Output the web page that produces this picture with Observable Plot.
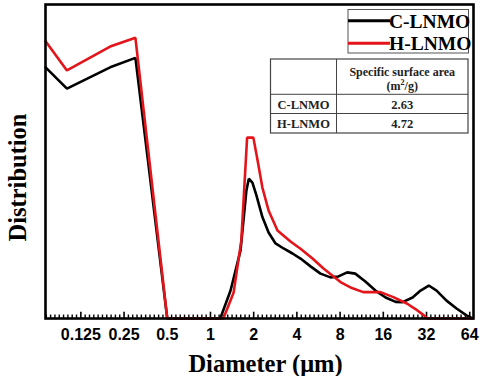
<!DOCTYPE html>
<html>
<head>
<meta charset="utf-8">
<script src="https://cdn.jsdelivr.net/npm/d3@7"></script>
<script src="https://cdn.jsdelivr.net/npm/@observablehq/plot@0.6"></script>
<style>
  html, body { margin: 0; padding: 0; background: #fff; }
  #chart svg { display: block; }
</style>
</head>
<body>
<div id="chart"></div>
<script>
// ---- data ----
const diameterC = [0.071,0.1,0.2,0.3,0.5,1,1.17,1.38,1.62,1.78,1.85,1.96,2.09,2.30,2.54,2.84,3.23,3.73,4.24,4.98,5.84,6.86,7.80,8.96,10.2,12.0,14.1,16.6,19.5,21.8,25.6,29.1,33.2,37.6,44.1,51.8,60.8,67];
const distC     = [80.0,73.2,80.0,83.0,0,0,0,8.9,21.7,40.8,44.5,43.3,39.2,32.3,27.4,23.9,22.3,20.7,19.1,16.6,14.3,13.1,13.4,14.7,14.3,11.8,8.9,6.7,5.3,5.2,6.7,8.9,10.5,8.9,5.7,3.2,1.0,0];
const diameterH = [0.071,0.1,0.2,0.3,0.5,1,1.23,1.45,1.64,1.80,1.99,2.13,2.30,2.54,2.93,3.61,4.24,5.14,6.13,7.20,8.05,9.45,11.6,15.3,18.8,23.5,26.8,30.7,32.5,67];
const distH     = [88.3,79.0,86.6,89.4,0,0,0,8.3,24.8,57.6,57.6,50.3,41.7,34.4,28.0,24.5,22.2,19.1,15.9,13.4,11.6,9.9,8.4,8.4,6.8,4.7,3.0,1.0,0,0];
const seriesNames = ["C-LNMO", "H-LNMO"];
const seriesColors = ["#000000", "#e3151b"];
const majorTicks = [0.125, 0.25, 0.5, 1, 2, 4, 8, 16, 32, 64];
const tickLabels = ["0.125", "0.25", "0.5", "1", "2", "4", "8", "16", "32", "64"];
const tableHeader = ["Specific surface area", "(m", "2", "/g)"];
const tableValues = ["2.63", "4.72"];
const xDomain = [0.0709, 68];

// ---- build ----
const rowsC = diameterC.map((d, i) => ({x: d, y: distC[i]}));
const rowsH = diameterH.map((d, i) => ({x: d, y: distH[i]}));
const minorTicks = [];
[0.0625, ...majorTicks].forEach(b => {
  for (let k = 1; k < 10; k++) {
    const v = b * Math.pow(2, k / 10);
    if (v > xDomain[0] && v < xDomain[1]) minorTicks.push(v);
  }
});
const majorIn = majorTicks.filter(v => v > xDomain[0] && v < xDomain[1]);

const serif = "'Liberation Serif', 'Times New Roman', serif";
const sans = "'Liberation Sans', Arial, sans-serif";

const plot = Plot.plot({
  width: 480,
  height: 376,
  marginLeft: 45,
  marginRight: 7,
  marginTop: 4,
  marginBottom: 58,
  style: {background: "#fff", overflow: "visible"},
  x: {type: "log", base: 2, domain: xDomain},
  y: {domain: [0, 100], axis: null},
  marks: [
    Plot.ruleX(minorTicks, {x: d => d, y1: 0, y2: 1.1, stroke: "#000", strokeWidth: 1.4}),
    Plot.ruleX(majorIn, {x: d => d, y1: 0, y2: 2.0, stroke: "#000", strokeWidth: 1.6}),
    Plot.line(rowsC, {x: "x", y: "y", stroke: seriesColors[0], strokeWidth: 2.6, strokeLinejoin: "miter"}),
    Plot.line(rowsH, {x: "x", y: "y", stroke: seriesColors[1], strokeWidth: 2.6, strokeLinejoin: "miter"}),
    Plot.frame({stroke: "#000", strokeWidth: 2.6}),
    Plot.axisX({ticks: majorTicks, tickFormat: d => tickLabels[majorTicks.indexOf(d)], tickSize: 0, tickPadding: 10,
      fontSize: 16, fontWeight: "bold", fontFamily: sans, fill: "#000", label: null}),
    Plot.text(["Diameter (μm)"], {frameAnchor: "bottom", lineAnchor: "bottom", dx: 6, dy: 53,
      fontSize: 24.5, fontWeight: "bold", fontFamily: serif, fill: "#000"}),
    Plot.text(["Distribution"], {frameAnchor: "left", rotate: -90, dx: -27, dy: 16, textAnchor: "middle", lineAnchor: "middle",
      fontSize: 24.5, fontWeight: "bold", fontFamily: serif, fill: "#000"})
  ]
});
document.getElementById("chart").appendChild(plot);

// ---- legend & table overlay ----
const svg = d3.select(plot);
const g = svg.append("g");
// legend box
g.append("rect").attr("x", 348).attr("y", 9.5).attr("width", 120.5).attr("height", 43.5)
  .attr("fill", "#fff").attr("stroke", "#555").attr("stroke-width", 1);
seriesNames.forEach((name, i) => {
  const ly = i === 0 ? 20.7 : 43.3;
  g.append("line").attr("x1", 348).attr("x2", 390).attr("y1", ly).attr("y2", ly)
    .attr("stroke", seriesColors[i]).attr("stroke-width", 3);
  g.append("text").attr("x", 389).attr("y", i === 0 ? 27.5 : 50).attr("text-anchor", "start")
    .attr("font-family", serif).attr("font-weight", "bold").attr("font-size", 19.5)
    .attr("fill", "#000").text(name);
});
// table
const tx0 = 270.5, tx1 = 336.5, tx2 = 468;
const ty = [59, 94.3, 113.5, 133];
g.append("rect").attr("x", tx0).attr("y", ty[0]).attr("width", tx2 - tx0).attr("height", ty[3] - ty[0])
  .attr("fill", "#fff").attr("stroke", "#444").attr("stroke-width", 1.2);
g.append("line").attr("x1", tx1).attr("x2", tx1).attr("y1", ty[0]).attr("y2", ty[3]).attr("stroke", "#444").attr("stroke-width", 1);
[ty[1], ty[2]].forEach(y => g.append("line").attr("x1", tx0).attr("x2", tx2).attr("y1", y).attr("y2", y)
  .attr("stroke", "#444").attr("stroke-width", 1));
const cx2 = (tx1 + tx2) / 2, cx1 = (tx0 + tx1) / 2;
const txt = (x, y, s, size) => g.append("text").attr("x", x).attr("y", y).attr("text-anchor", "middle")
  .attr("font-family", serif).attr("font-weight", "bold").attr("font-size", size).attr("fill", "#222").text(s);
txt(cx2, 75.5, tableHeader[0], 12);
const t2 = g.append("text").attr("x", cx2).attr("y", 89.5).attr("text-anchor", "middle")
  .attr("font-family", serif).attr("font-weight", "bold").attr("font-size", 12).attr("fill", "#222");
t2.append("tspan").text(tableHeader[1]);
t2.append("tspan").attr("dy", -4.5).attr("font-size", 8).text(tableHeader[2]);
t2.append("tspan").attr("dy", 4.5).text(tableHeader[3]);
seriesNames.forEach((name, i) => {
  const y = i === 0 ? 108.5 : 128;
  txt(cx1, y, name, 12.5);
  txt(cx2, y, tableValues[i], 12.5);
});
</script>
</body>
</html>
